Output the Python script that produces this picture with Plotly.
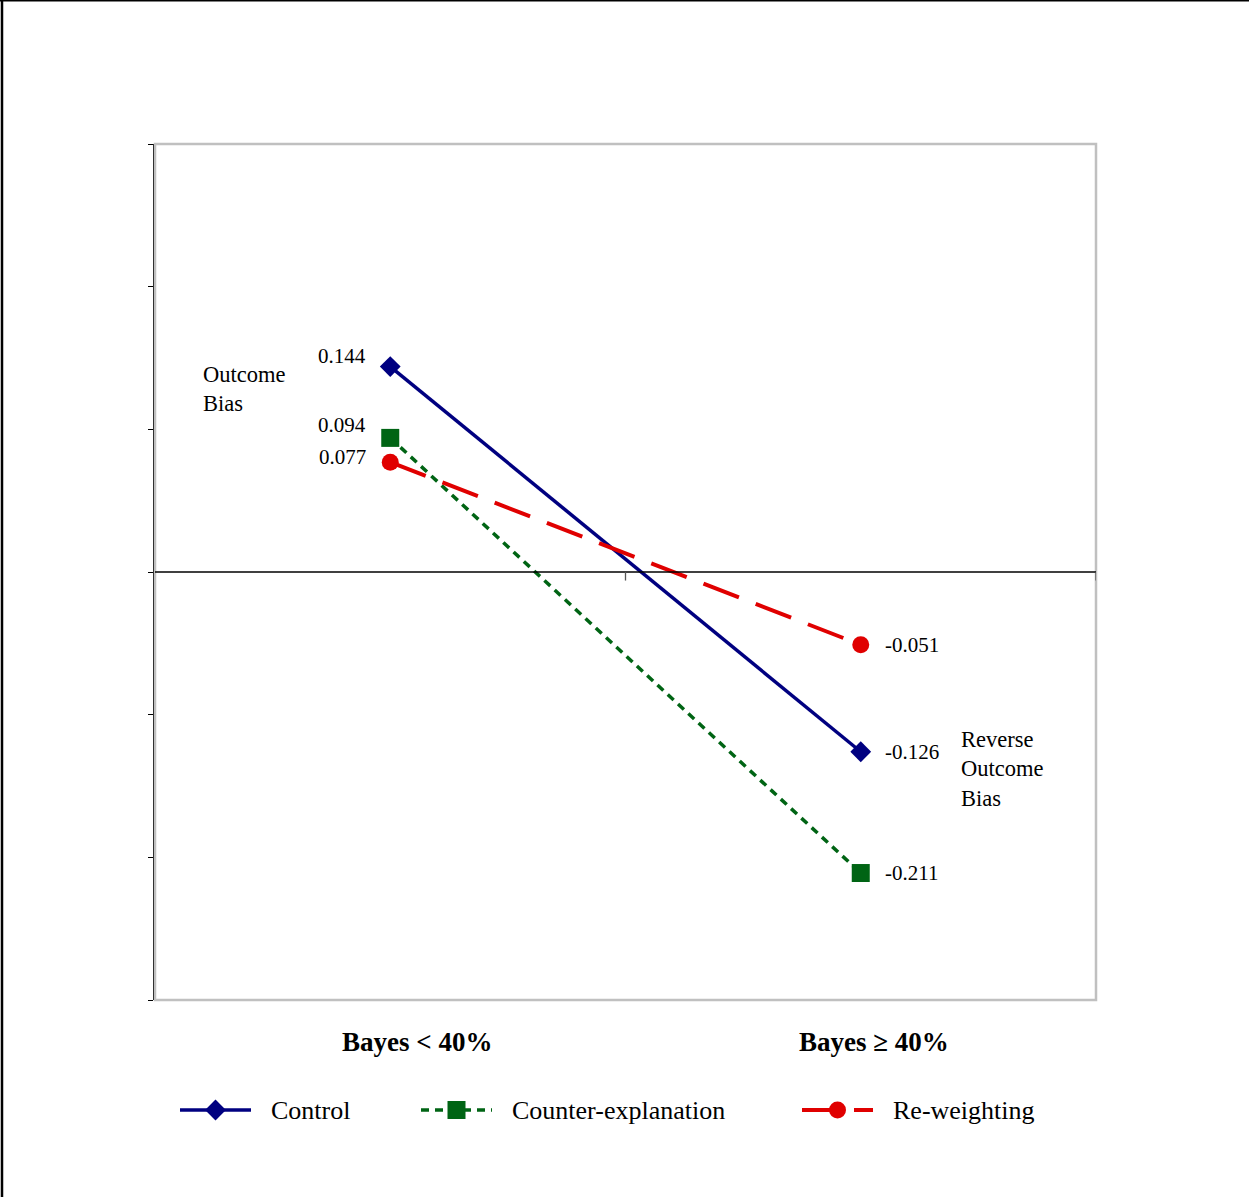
import plotly.graph_objects as go

W, H = 1249, 1197

categories = ["Bayes < 40%", "Bayes \u2265 40%"]
series_names = ["Control", "Counter-explanation", "Re-weighting"]
control = [0.144, -0.126]
counter_expl = [0.094, -0.211]
reweighting = [0.077, -0.051]
y_ticks = [-0.3, -0.2, -0.1, 0.0, 0.1, 0.2, 0.3]

FONT = "Liberation Serif, Times New Roman, serif"
NAVY, GREEN, RED = "#000080", "#006414", "#e00000"

styles = [
    dict(color=NAVY, dash="solid", width=3.5, symbol="diamond", size=16),
    dict(color=GREEN, dash="8px,6px", width=3.5, symbol="square", size=18),
    dict(color=RED, dash="38px,18px", width=4, symbol="circle", size=17),
]
values = [control, counter_expl, reweighting]

# plot area in page pixels
L, R, T, B = 155, 1096, 144, 1000

fig = go.Figure()
xs = [0, 1]
for name, vals, st in zip(series_names, values, styles):
    fig.add_trace(go.Scatter(
        x=xs, y=vals, mode="lines+markers", name=name, showlegend=False,
        line=dict(color=st["color"], dash=st["dash"], width=st["width"]),
        marker=dict(symbol=st["symbol"], size=st["size"], color=st["color"],
                    line=dict(width=0)),
        cliponaxis=False,
    ))

# data labels
label_shift_left = {0: 11, 1: 13, 2: 5}
for i, vals in enumerate(values):
    fig.add_annotation(x=0, y=vals[0], xref="x", yref="y", text=f"{vals[0]:.3f}",
                       showarrow=False, xanchor="right", xshift=-22,
                       yshift=label_shift_left[i],
                       font=dict(family=FONT, size=21, color="black"))
    fig.add_annotation(x=1, y=vals[1], xref="x", yref="y", text=f"{vals[1]:.3f}",
                       showarrow=False, xanchor="left", xshift=22, yshift=0,
                       font=dict(family=FONT, size=21, color="black"))

# region notes
fig.add_annotation(x=201, y=389, xref="x2", yref="y2", text="Outcome<br>Bias",
                   showarrow=False, xanchor="left", yanchor="middle", align="left",
                   font=dict(family=FONT, size=22.5, color="black"))
fig.add_annotation(x=959, y=769, xref="x2", yref="y2", text="Reverse<br>Outcome<br>Bias",
                   showarrow=False, xanchor="left", yanchor="middle", align="left",
                   font=dict(family=FONT, size=22.5, color="black"))

# category labels
for xi, cat, sh in zip(xs, categories, [27, 13]):
    fig.add_annotation(x=xi, y=1042, xref="x", yref="y2", text=f"<b>{cat}</b>",
                       showarrow=False, xanchor="center", yanchor="middle",
                       xshift=sh,
                       font=dict(family=FONT, size=27, color="black"))

shapes = []
# grey plot border
shapes.append(dict(type="rect", xref="x2", yref="y2", x0=L, x1=R, y0=T, y1=B,
                   line=dict(color="#c0c0c0", width=2.5), layer="below"))
# zero line with category separator ticks
shapes.append(dict(type="line", xref="x", yref="y", x0=-0.5, x1=1.5, y0=0, y1=0,
                   line=dict(color="black", width=1.3)))
for tx in [0.5, 1.5]:
    shapes.append(dict(type="line", xref="x", yref="y", x0=tx, x1=tx,
                       y0=0, y1=-0.006, line=dict(color="#555555", width=1.3)))
# page frame (left and top)
shapes.append(dict(type="line", xref="x2", yref="y2", x0=2, x1=2, y0=0, y1=H,
                   line=dict(color="black", width=2.5)))
shapes.append(dict(type="line", xref="x2", yref="y2", x0=0, x1=W, y0=0.8, y1=0.8,
                   line=dict(color="black", width=1.5)))

# legend samples
leg_y = 1110
leg_x = [180, 421, 802]
leg_text_x = [269, 510, 891]
for name, st, x0, tx in zip(series_names, styles, leg_x, leg_text_x):
    fig.add_trace(go.Scatter(
        x=[x0, x0 + 71], y=[leg_y, leg_y], xaxis="x2", yaxis="y2", mode="lines",
        line=dict(color=st["color"], dash=st["dash"] if st["dash"] == "solid" or st["color"] == GREEN else "34px,18px",
                  width=st["width"]),
        showlegend=False, hoverinfo="skip", cliponaxis=False))
    fig.add_trace(go.Scatter(
        x=[x0 + 35.5], y=[leg_y], xaxis="x2", yaxis="y2", mode="markers",
        marker=dict(symbol=st["symbol"], size=st["size"], color=st["color"]),
        showlegend=False, hoverinfo="skip", cliponaxis=False))
    fig.add_annotation(x=tx, y=leg_y, xref="x2", yref="y2", text=name,
                       showarrow=False, xanchor="left", yanchor="middle",
                       font=dict(family=FONT, size=26, color="black"))

fig.update_layout(
    width=W, height=H,
    margin=dict(l=0, r=0, t=0, b=0),
    paper_bgcolor="white", plot_bgcolor="rgba(0,0,0,0)",
    shapes=shapes,
    xaxis=dict(domain=[L / W, R / W], range=[-0.5, 1.5], showgrid=False,
               zeroline=False, showline=False, showticklabels=False, ticks="",
               anchor="y"),
    yaxis=dict(domain=[1 - B / H, 1 - T / H], range=[-0.3, 0.3], showgrid=False,
               zeroline=False, showline=True, linecolor="black", linewidth=1.5,
               ticks="outside", ticklen=5, tickcolor="black", tickwidth=1,
               tickvals=y_ticks, showticklabels=False, anchor="x"),
    xaxis2=dict(domain=[0, 1], range=[0, W], visible=False, anchor="y2",
                fixedrange=True),
    yaxis2=dict(domain=[0, 1], range=[H, 0], visible=False, anchor="x2",
                fixedrange=True),
    showlegend=False,
)

fig.write_html("out.html")
